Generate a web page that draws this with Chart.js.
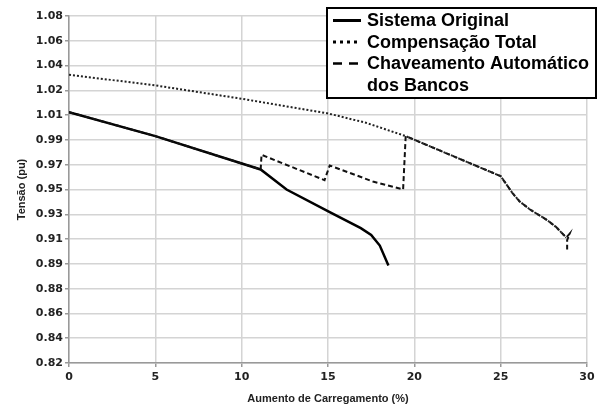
<!DOCTYPE html>
<html>
<head>
<meta charset="utf-8">
<script src="https://cdn.jsdelivr.net/npm/chart.js@4/dist/chart.umd.min.js"></script>
<style>
  html, body { margin: 0; padding: 0; background: #fff; }
</style>
</head>
<body>
<canvas id="graficoTensao" width="601" height="410"></canvas>
<script>
// Dados
const xOriginal = [0, 5, 11.1, 12.6, 15.1, 16.9, 17.5, 18.0, 18.5];
const yOriginal = [1.008, 0.990, 0.965, 0.950, 0.933, 0.921, 0.916, 0.908, 0.893];

const xCompensacao = [0, 5, 10, 15, 17.2, 19.5, 25, 25.7, 26.1, 26.7, 27.7, 28.2, 28.8];
const yCompensacao = [1.036, 1.028, 1.018, 1.007, 1.000, 0.990, 0.960, 0.947, 0.941, 0.935, 0.927, 0.922, 0.914];

const xChaveamento = [0, 5, 11.1, 11.15, 14.8, 15.1, 17.6, 19.35, 19.5, 25, 25.7, 26.1, 26.7, 27.7, 28.2, 28.8, 29.0, 28.85, 28.85];
const yChaveamento = [1.008, 0.990, 0.965, 0.976, 0.957, 0.968, 0.956, 0.950, 0.990, 0.960, 0.947, 0.941, 0.935, 0.927, 0.922, 0.914, 0.917, 0.912, 0.905];

const nomesSeries = ['Sistema Original', 'Compensação Total', 'Chaveamento Automático dos Bancos'];
const linhasLegenda = [['Sistema Original'], ['Compensação Total'], ['Chaveamento Automático', 'dos Bancos']];

const xTicks = [0, 5, 10, 15, 20, 25, 30];
const yTickLabels = ['0.82', '0.84', '0.86', '0.88', '0.89', '0.91', '0.93', '0.95',
                     '0.97', '0.99', '1.01', '1.02', '1.04', '1.06', '1.08'];

function pontos(xs, ys) {
    return xs.map((x, i) => ({ x: x, y: ys[i] }));
}

const fonteEixo = { family: '"DejaVu Sans", sans-serif', size: 11, weight: 'bold' };
const fonteTitulo = { family: '"Liberation Sans", Arial, sans-serif', size: 11, weight: 'bold' };

// Legenda em quadro, como no original
const legendaQuadro = {
    id: 'legendaQuadro',
    afterDraw(chart) {
        const ctx = chart.ctx;
        ctx.save();
        ctx.fillStyle = '#fff';
        ctx.fillRect(326, 7, 271, 92);
        ctx.lineWidth = 2;
        ctx.strokeStyle = '#000';
        ctx.strokeRect(327, 8, 269, 90);

        const tracos = [[], [3, 4], [9, 7]];
        const larguras = [3, 3, 2.5];
        ctx.font = 'bold 18px "Liberation Sans", Arial, sans-serif';
        ctx.fillStyle = '#000';
        ctx.textBaseline = 'middle';
        let y = 20.5;
        linhasLegenda.forEach((linhas, i) => {
            ctx.beginPath();
            ctx.setLineDash(tracos[i]);
            ctx.lineWidth = larguras[i];
            ctx.moveTo(333, y);
            ctx.lineTo(361, y);
            ctx.stroke();
            linhas.forEach(t => {
                ctx.fillText(t, 367, y + 1);
                y += 21.5;
            });
        });
        ctx.restore();
    }
};

const ctxTensao = document.getElementById('graficoTensao').getContext('2d');

const graficoTensao = new Chart(ctxTensao, {
    type: 'line',
    data: {
        datasets: [
            {
                label: nomesSeries[1],
                data: pontos(xCompensacao, yCompensacao),
                borderColor: '#222',
                borderWidth: 2,
                borderDash: [2, 2],
                pointRadius: 0,
                tension: 0
            },
            {
                label: nomesSeries[2],
                data: pontos(xChaveamento, yChaveamento),
                borderColor: '#111',
                borderWidth: 2,
                borderDash: [5, 3],
                pointRadius: 0,
                tension: 0
            },
            {
                label: nomesSeries[0],
                data: pontos(xOriginal, yOriginal),
                borderColor: '#000',
                borderWidth: 2.5,
                pointRadius: 0,
                tension: 0
            }
        ]
    },
    options: {
        responsive: false,
        animation: false,
        devicePixelRatio: 1,
        layout: { padding: { left: 0, top: 16, right: 14, bottom: 0 } },
        plugins: {
            legend: { display: false },
            tooltip: { enabled: false }
        },
        scales: {
            x: {
                type: 'linear',
                min: 0,
                max: 30,
                afterBuildTicks: (axis) => { axis.ticks = xTicks.map(v => ({ value: v })); },
                afterFit: (axis) => { axis.height = 47; },
                ticks: { color: '#222', font: fonteEixo, padding: 4, maxRotation: 0 },
                grid: { color: '#d4d4d4', lineWidth: 1.5, tickLength: 4, tickColor: '#999' },
                border: { color: '#999', width: 1.5 },
                title: {
                    display: true,
                    text: 'Aumento de Carregamento (%)',
                    color: '#222',
                    font: fonteTitulo,
                    padding: { top: 2, bottom: 4 }
                }
            },
            y: {
                min: 0.82,
                max: 1.08,
                afterBuildTicks: (axis) => {
                    const n = yTickLabels.length - 1;
                    axis.ticks = yTickLabels.map((t, i) => ({ value: axis.min + (axis.max - axis.min) * i / n }));
                },
                afterFit: (axis) => { axis.width = 69; },
                ticks: {
                    color: '#222',
                    font: fonteEixo,
                    padding: 2,
                    callback: (v, i) => yTickLabels[i]
                },
                grid: { color: '#d4d4d4', lineWidth: 1.5, tickLength: 4, tickColor: '#999' },
                border: { color: '#999', width: 1.5 },
                title: {
                    display: true,
                    text: 'Tensão (pu)',
                    color: '#222',
                    font: fonteTitulo,
                    padding: { top: 15, bottom: 0 }
                }
            }
        }
    },
    plugins: [legendaQuadro]
});
</script>
</body>
</html>
